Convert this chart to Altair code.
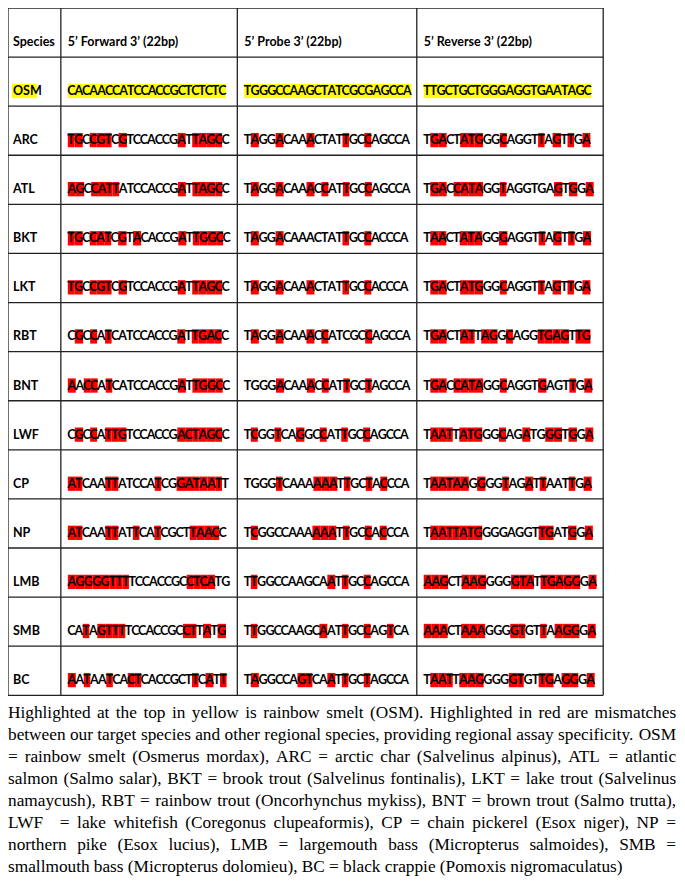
import altair as alt
import pandas as pd

# ---------------- data ----------------
species = ["OSM", "ARC", "ATL", "BKT", "LKT", "RBT", "BNT", "LWF", "CP", "NP", "LMB", "SMB", "BC"]
headers = ["Species", "5\u2019 Forward 3\u2019 (22bp)", "5\u2019 Probe 3\u2019 (22bp)", "5\u2019 Reverse 3\u2019 (22bp)"]

# [..] marks bases highlighted in red (mismatches); OSM row is the yellow target
forward = [
    "CACAACCATCCACCGCTCTCTC",
    "[TG]C[CGT]C[G]TCCACCG[A]T[TAGC]C",
    "[AG]C[CATT]ATCCACCG[A]T[TAGC]C",
    "[TG]C[CAT]C[G]T[A]CACCG[A]T[TGGC]C",
    "[TG]C[CGT]C[G]TCCACCG[A]T[TAGC]C",
    "C[G]C[C]A[T]CATCCACCG[A]T[TGAC]C",
    "[A]A[CC]A[T]CATCCACCG[A]T[TGGC]C",
    "C[G]C[C]A[TTG]TCCACCG[ACTAGC]C",
    "[AT]CAA[TT]ATCCA[T]CG[GATAAT]T",
    "[AT]CAA[TT]AT[T]CA[T]CGCT[TAAC]C",
    "[AGGGGTTT]TCCACCGC[CTCA]TG",
    "CA[T]A[GTTT]TCCACCGC[CT]T[A]T[G]",
    "[A]A[T]AA[T]CA[CT]CACCGCT[T]C[A]T[T]",
]
probe = [
    "TGGGCCAAGCTATCGCGAGCCA",
    "T[A]GG[A]CAA[A]CTAT[T]GC[C]AGCCA",
    "T[A]GG[A]CAA[A]C[C]AT[T]GC[C]AGCCA",
    "T[A]GG[A]CAAACTAT[T]GC[C]ACCCA",
    "T[A]GG[A]CAA[A]CTAT[T]GC[C]ACCCA",
    "T[A]GG[A]CAA[A]C[C]ATCGC[C]AGCCA",
    "TGGG[A]CAA[A]C[C]AT[T]GC[T]AGCCA",
    "T[C]GG[T]CA[G]GC[C]AT[T]GC[C]AGCCA",
    "TGGG[T]CAAA[AAA]T[T]GC[T]A[C]CCA",
    "T[C]GGCCAAA[AAA]T[T]GC[C]A[C]CCA",
    "T[T]GGCCAAGCA[A]T[T]GC[C]AGCCA",
    "T[T]GGCCAAGC[A]AT[T]GC[C]AG[T]CA",
    "T[A]GGCCA[GT]CA[A]T[T]GC[T]AGCCA",
]
reverse = [
    "TTGCTGCTGGGAGGTGAATAGC",
    "T[GA]CT[ATG]GG[C]AGGT[T]A[G]T[T]G[A]",
    "T[GA]C[CATA]GG[T]AGGTGA[G]T[G]G[A]",
    "T[AA]CT[ATA]GG[G]AGGT[T]A[G]T[T]G[A]",
    "T[GA]CT[ATG]GG[C]AGGT[T]A[G]T[T]G[A]",
    "T[GA]CT[AT]T[AG]G[C]AGG[TGAG]T[TG]",
    "T[GA]C[CATA]GG[C]AGGT[G]AGT[T]G[A]",
    "T[AAT]T[ATG]GG[C]AG[A]TG[GG]T[G]G[A]",
    "T[AATAA]G[G]GG[T]AG[A]T[T]AAT[T]G[A]",
    "T[AATTATG]GGGAGGT[TG]AT[G]G[A]",
    "[AAG]CT[AAG]GGG[GTA]T[TGAGG]G[A]",
    "[AAA]CT[AAA]GGG[GT]GT[T]A[AGG]G[A]",
    "T[AAT]T[AAG]GGG[GT]GT[TG]A[GG]G[A]",
]

caption_lines = [
    "Highlighted at the top in yellow is rainbow smelt (OSM). Highlighted in red are mismatches",
    "between our target species and other regional species, providing regional assay specificity. OSM",
    "= rainbow smelt (Osmerus mordax), ARC = arctic char (Salvelinus alpinus), ATL = atlantic",
    "salmon (Salmo salar), BKT = brook trout (Salvelinus fontinalis), LKT = lake trout (Salvelinus",
    "namaycush), RBT = rainbow trout (Oncorhynchus mykiss), BNT = brown trout (Salmo trutta),",
    "LWF  = lake whitefish (Coregonus clupeaformis), CP = chain pickerel (Esox niger), NP =",
    "northern pike (Esox lucius), LMB = largemouth bass (Micropterus salmoides), SMB =",
    "smallmouth bass (Micropterus dolomieu), BC = black crappie (Pomoxis nigromaculatus)",
]

# ---------------- layout ----------------
COL_EDGES = [5, 58, 235, 415, 602]
TOP = 5
ROW_H = 49.43
N_ROWS = 14
UP = 15.3
HL_HALF = 7.2
SEQ_PX = 13.2
BASE_W = {"A": 0.606, "C": 0.529, "G": 0.637, "T": 0.497}

TIMES = {" ": 250, "a": 444, "b": 500, "c": 444, "d": 500, "e": 444, "f": 333, "g": 500, "h": 500,
         "i": 278, "j": 278, "k": 500, "l": 278, "m": 778, "n": 500, "o": 500, "p": 500, "q": 500,
         "r": 333, "s": 389, "t": 278, "u": 500, "v": 500, "w": 722, "x": 500, "y": 500, "z": 444,
         "A": 722, "B": 667, "C": 667, "D": 722, "E": 611, "F": 556, "G": 722, "H": 722, "I": 333,
         "J": 389, "K": 722, "L": 611, "M": 889, "N": 722, "O": 722, "P": 556, "Q": 722, "R": 667,
         "S": 556, "T": 611, "U": 722, "V": 722, "W": 944, "X": 722, "Y": 722, "Z": 611,
         "(": 333, ")": 333, ",": 250, ".": 250, "=": 564, "-": 333}
CAP_SIZE = 17.3
CAP_LEFT, CAP_RIGHT = 5, 675
CAP_Y0, CAP_DY = 715, 22.2


def parse(s):
    out, hl = [], False
    for ch in s:
        if ch == "[":
            hl = True
        elif ch == "]":
            hl = False
        else:
            out.append((ch, hl))
    return out


def row_center(i):
    return TOP + (i + 1) * ROW_H - UP


rects, chars, labels = [], [], []
for r, sp in enumerate(species):
    yc = row_center(r + 1)
    labels.append(dict(x=COL_EDGES[0] + 5, y=yc, t=sp))
    for c, col in enumerate([forward, probe, reverse]):
        x = COL_EDGES[c + 1] + 7
        for ch, hl in parse(col[r]):
            w = BASE_W[ch] * SEQ_PX
            chars.append(dict(x=x + w / 2, y=yc, t=ch))
            if r == 0:
                rects.append(dict(x=x, x2=x + w, y=yc - HL_HALF, y2=yc + HL_HALF, fill="#ffff00"))
            elif hl:
                rects.append(dict(x=x, x2=x + w, y=yc - HL_HALF, y2=yc + HL_HALF, fill="#ff0000"))
            x += w
# yellow behind the OSM label
yc0 = row_center(1)
rects.append(dict(x=9, x2=34, y=yc0 - HL_HALF, y2=yc0 + HL_HALF, fill="#ffff00"))

for c, h in enumerate(headers):
    labels.append(dict(x=COL_EDGES[c] + (5 if c == 0 else 7), y=row_center(0), t=h))

rules = []
for i in range(N_ROWS + 1):
    yy = TOP + i * ROW_H
    rules.append(dict(x=COL_EDGES[0], x2=COL_EDGES[-1], y=yy, y2=yy))
for e in COL_EDGES:
    rules.append(dict(x=e, x2=e, y=TOP, y2=TOP + N_ROWS * ROW_H))


def tw(word):
    return sum(TIMES.get(ch, 500) for ch in word) / 1000 * CAP_SIZE


words = []
for li, line in enumerate(caption_lines):
    ws = line.split(" ")
    total = sum(tw(w) for w in ws)
    if li < len(caption_lines) - 1:
        gap = (CAP_RIGHT - CAP_LEFT - total) / (len(ws) - 1)
    else:
        gap = tw(" ")
    x = CAP_LEFT
    for w in ws:
        if w:
            words.append(dict(x=x, y=CAP_Y0 + li * CAP_DY, t=w))
        x += tw(w) + gap

XS = alt.Scale(domain=[5, 676], nice=False, zero=False)
YS = alt.Scale(domain=[5, 881], nice=False, zero=False, reverse=True)

rect_layer = alt.Chart(pd.DataFrame(rects)).mark_rect().encode(
    x=alt.X("x:Q", scale=XS, axis=None), x2="x2:Q",
    y=alt.Y("y:Q", scale=YS, axis=None), y2="y2:Q",
    color=alt.Color("fill:N", scale=None),
)
rule_layer = alt.Chart(pd.DataFrame(rules)).mark_rule(color="#222222", strokeWidth=1.3).encode(
    x=alt.X("x:Q", scale=XS, axis=None), x2="x2:Q",
    y=alt.Y("y:Q", scale=YS, axis=None), y2="y2:Q",
)
char_layer = alt.Chart(pd.DataFrame(chars)).mark_text(
    font="Lato", fontWeight="bold", fontSize=12.5, align="center", baseline="middle", color="black"
).encode(
    x=alt.X("x:Q", scale=XS, axis=None), y=alt.Y("y:Q", scale=YS, axis=None), text="t:N"
)
label_layer = alt.Chart(pd.DataFrame(labels)).mark_text(
    font="Lato", fontWeight="bold", fontSize=12.5, align="left", baseline="middle", color="black"
).encode(
    x=alt.X("x:Q", scale=XS, axis=None), y=alt.Y("y:Q", scale=YS, axis=None), text="t:N"
)
caption_layer = alt.Chart(pd.DataFrame(words)).mark_text(
    font="Liberation Serif", fontSize=CAP_SIZE, align="left", baseline="middle", color="black"
).encode(
    x=alt.X("x:Q", scale=XS, axis=None), y=alt.Y("y:Q", scale=YS, axis=None), text="t:N"
)

chart = alt.layer(rect_layer, rule_layer, char_layer, label_layer, caption_layer).properties(
    width=669, height=870, padding=0, autosize=alt.AutoSizeParams(type="none")
).configure_view(stroke=None)

chart.save("out.html", embed_options={"renderer": "svg", "actions": False})
